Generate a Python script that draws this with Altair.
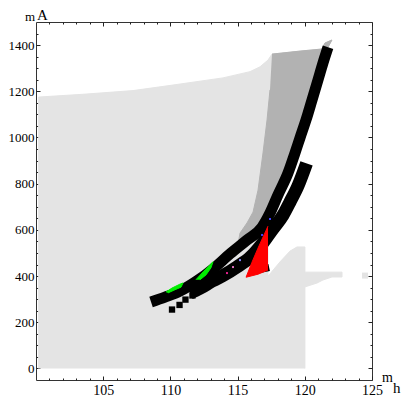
import altair as alt
import pandas as pd

# ---- data (m_h, m_A) ----
LIGHT_X = [100.2, 100.2, 103.5, 107.22, 110.19, 113.91, 115.92, 116.67, 117.26, 117.56, 119.64, 121.28, 121.50, 122.02,
           121.73, 120.98, 120.09, 119.27, 118.75, 118.0, 117.41, 117.26, 117.26, 118.15, 118.90, 119.42, 120.01,
           120.01, 122.77, 122.77, 122.02, 121.35, 120.91, 120.01, 120.01]
LIGHT_Y = [0, 1175, 1187, 1203, 1227, 1258, 1285, 1306, 1335, 1361, 1374, 1383, 1409, 1422,
           1391, 1249, 1076, 933, 846, 751, 673, 640, 399, 461, 508, 526, 526,
           417, 417, 396, 396, 383, 370, 353, 0]

DARK_X = [117.56, 119.64, 121.28, 121.50, 122.02, 121.73, 120.98, 120.09, 119.27, 118.75, 118.0, 117.41, 116.82,
          115.70, 115.03, 115.18, 115.70, 116.15, 116.52, 116.89, 117.19, 117.41]
DARK_Y = [1361, 1374, 1383, 1409, 1422, 1391, 1249, 1076, 933, 846, 751, 673, 612,
          556, 539, 586, 630, 677, 772, 933, 1076, 1206]

BAND_A_X = [108.56, 109.60, 110.71, 111.98, 113.17, 114.43, 115.70, 116.82, 117.41, 118.0, 118.75,
            119.27, 119.64, 120.09, 120.54, 120.98, 121.35, 121.73]
BAND_A_Y = [288, 309, 335, 379, 431, 496, 556, 612, 673, 751, 846,
            933, 998, 1076, 1163, 1249, 1322, 1391]

BAND_C_X = [111.46, 112.20, 113.10, 114.06, 114.96, 115.92, 116.82, 117.56, 118.38, 118.90, 119.49, 120.13]
BAND_C_Y = [327, 347, 378, 407, 440, 480, 539, 599, 664, 721, 790, 888]

BAND_D_X = [116.0, 117.35]
BAND_D_Y = [420, 437]

SQ_X = [110.12, 110.68, 111.12, 111.64]
SQ_Y = [255, 275, 298, 316]

RED_X = [117.26, 116.52, 116.07, 115.63, 116.52, 117.26]
RED_Y = [616, 521, 460, 395, 408, 426]

GREEN1_X = [111.90, 112.43, 112.95, 113.17, 113.02, 112.65, 112.20]
GREEN1_Y = [384, 418, 449, 462, 436, 405, 384]
GREEN2_X = [109.67, 110.12, 110.71, 110.94, 110.79, 110.27, 109.82]
GREEN2_Y = [331, 348, 365, 370, 352, 339, 327]

DOT_X = [114.21, 114.66, 115.18, 116.82, 117.41]
DOT_Y = [413, 439, 469, 578, 647]
DOT_C = ["#e0208a", "#e070c0", "#8080ff", "#4040ff", "#4040ff"]

BLOB_X = [124.48]
BLOB_Y = [402]

X_MAJOR = [105, 110, 115, 120, 125]
X_MINOR = [v for v in range(101, 125) if v % 5 != 0]
Y_MAJOR = [0, 200, 400, 600, 800, 1000, 1200, 1400]
Y_MINOR = [v for v in range(50, 1500, 50) if v % 200 != 0]

LIGHT = "#e4e4e4"
DARK = "#b2b2b2"
FONT = "Liberation Serif"


def table(xs, ys):
    return pd.DataFrame({"x": xs, "y": ys, "i": list(range(len(xs)))})


xs = alt.Scale(domain=[100, 125], nice=False, zero=False)
ys = alt.Scale(domain=[-50, 1500], nice=False, zero=False)


def ax(orient, values, size, labels):
    kw = dict(orient=orient, values=values, offset=-size, tickSize=size, domain=False, grid=False,
              labels=labels, title=None, tickColor="#222", tickWidth=1)
    if labels:
        kw.update(labelFont=FONT, labelFontSize=14 if orient == "bottom" else 13, labelColor="black",
                  format="d", labelPadding=3 if orient == "bottom" else 2,
                  labelFlush=False, labelOverlap=False)
    return alt.Axis(**kw)


def poly(xv, yv, color, xaxis=None, yaxis=None):
    return alt.Chart(table(xv, yv)).mark_line(fill=color, stroke=color, strokeWidth=1, strokeJoin="round").encode(
        x=alt.X("x:Q", scale=xs, axis=xaxis),
        y=alt.Y("y:Q", scale=ys, axis=yaxis),
        order=alt.Order("i:Q"),
    )


light = poly(LIGHT_X, LIGHT_Y, LIGHT, ax("bottom", X_MAJOR, 4, True), ax("left", Y_MAJOR, 4, True))
dark = poly(DARK_X, DARK_Y, DARK, ax("bottom", X_MINOR, 2, False), ax("left", Y_MINOR, 2, False))

blob = alt.Chart(table(BLOB_X, BLOB_Y)).mark_square(size=36, color=LIGHT, opacity=1).encode(
    x=alt.X("x:Q", scale=xs, axis=None), y=alt.Y("y:Q", scale=ys, axis=None))


def band(xv, yv, w):
    return alt.Chart(table(xv, yv)).mark_line(color="black", strokeWidth=w, strokeCap="butt",
                                              strokeJoin="round", interpolate="monotone").encode(
        x=alt.X("x:Q", scale=xs, axis=None),
        y=alt.Y("y:Q", scale=ys, axis=None),
        order=alt.Order("i:Q"),
    )


band_a = band(BAND_A_X, BAND_A_Y, 11)
band_c = band(BAND_C_X, BAND_C_Y, 13)
band_d = band(BAND_D_X, BAND_D_Y, 7)
squares = alt.Chart(table(SQ_X, SQ_Y)).mark_square(size=40, color="black", opacity=1).encode(
    x=alt.X("x:Q", scale=xs, axis=None), y=alt.Y("y:Q", scale=ys, axis=None))

red = poly(RED_X, RED_Y, "#ff0000", ax("top", X_MAJOR, 4, False), ax("right", Y_MAJOR, 4, False))
green1 = poly(GREEN1_X, GREEN1_Y, "#00ee00", ax("top", X_MINOR, 2, False), ax("right", Y_MINOR, 2, False))
green2 = poly(GREEN2_X, GREEN2_Y, "#00ee00")

dots = alt.Chart(pd.DataFrame({"x": DOT_X, "y": DOT_Y, "c": DOT_C})).mark_square(size=4, opacity=1).encode(
    x=alt.X("x:Q", scale=xs, axis=None), y=alt.Y("y:Q", scale=ys, axis=None),
    color=alt.Color("c:N", scale=None))


def label(t, px, py, size):
    return alt.Chart(pd.DataFrame({"t": [t]})).mark_text(font=FONT, fontSize=size, color="black",
                                                         align="left", baseline="alphabetic").encode(
        text="t:N", x=alt.value(px), y=alt.value(py))


t_m1 = label("m", -11, -1, 13)
t_a = label("A", 1, -2, 15)
t_m2 = label("m", 346, 360, 14)
t_h = label("h", 357, 371, 15)

chart = alt.layer(light, dark, blob, band_a, band_c, band_d, squares, red, green1, green2, dots,
                  t_m1, t_a, t_m2, t_h).resolve_axis(x="independent", y="independent").properties(
    width=336, height=358,
    autosize=alt.AutoSizeParams(type="none"),
    padding={"left": 28, "top": 14, "right": 29, "bottom": 20},
).configure_view(stroke="#333", strokeWidth=1)

chart.save("out.html", embed_options={"renderer": "svg", "actions": False})
